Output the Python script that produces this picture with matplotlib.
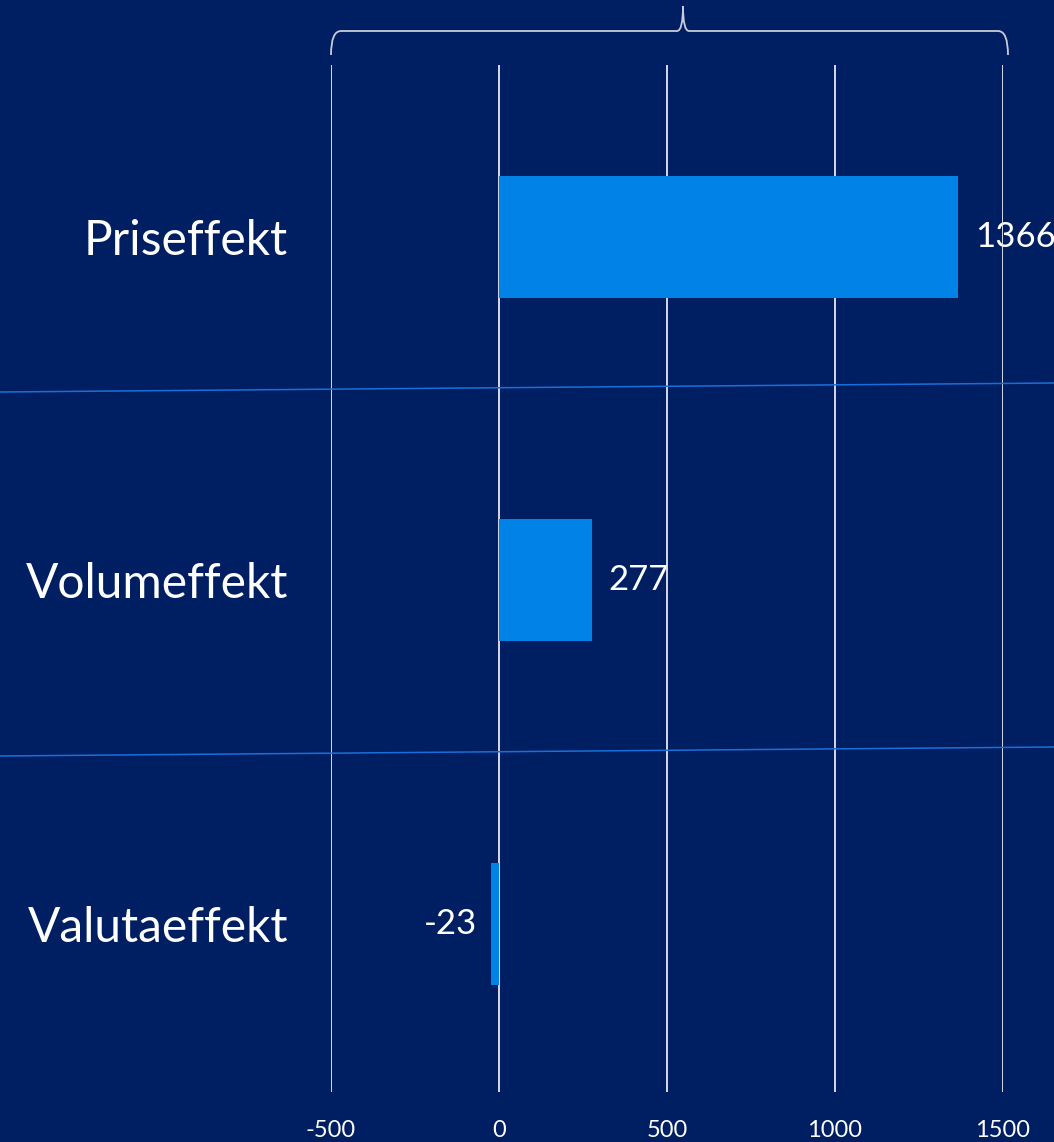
import matplotlib
matplotlib.use("Agg")
import matplotlib.pyplot as plt
from matplotlib.lines import Line2D
from matplotlib.path import Path
from matplotlib.patches import PathPatch

# chart data
categories = ["Priseffekt", "Volumeffekt", "Valutaeffekt"]
values = [1366, 277, -23]
x_ticks = [-500, 0, 500, 1000, 1500]

BG = "#001e62"
BAR = "#0082e6"
W, H = 1054, 1142

plt.rcParams["font.family"] = ["Lato", "DejaVu Sans"]

fig = plt.figure(figsize=(W / 100, H / 100), dpi=100, facecolor=BG)
ax = fig.add_axes([331 / W, 1 - 1092 / H, (1003 - 331) / W, (1092 - 65) / H])
ax.set_facecolor(BG)

ypos = list(range(len(categories)))
ax.barh(ypos, values, height=0.355, color=BAR, zorder=3)

for x in x_ticks:
    ax.axvline(x, color="#e6e8ee", lw=1.3, zorder=2)

for y, v in zip(ypos, values):
    if v >= 0:
        ax.text(v + 50, y, str(v), ha="left", va="center", color="white",
                fontsize=25, zorder=1, clip_on=False)
    else:
        ax.text(v - 42, y, str(v), ha="right", va="center", color="white",
                fontsize=25, zorder=1, clip_on=False)

ax.set_xlim(-500, 1500)
ax.set_ylim(2.49, -0.5)
ax.set_xticks(x_ticks)
ax.set_xticklabels([str(t) for t in x_ticks])
ax.set_yticks(ypos)
ax.set_yticklabels(categories)
ax.tick_params(axis="x", length=0, pad=20, labelsize=17, labelcolor="white")
ax.tick_params(axis="y", length=0, pad=31, labelsize=34.5, labelcolor="white")
for s in ax.spines.values():
    s.set_visible(False)

# slanted separators between rows
for y0, y1 in [(392, 383), (756, 747)]:
    fig.add_artist(Line2D([0, 1], [1 - y0 / H, 1 - y1 / H], color="#1a6fd6",
                          lw=1.1, transform=fig.transFigure))


# curly brace above the axis, in pixel coordinates
def px(x, y):
    return (x / W, 1 - y / H)


xl, xr, xm = 331, 1008, 683
yb, yt, ytip = 55, 31, 6
verts = [px(xl, yb), px(xl, yt), px(xl + 10, yt),
         px(xm - 6, yt), px(xm, yt), px(xm, ytip),
         px(xm, yt), px(xm + 6, yt),
         px(xr - 10, yt), px(xr, yt), px(xr, yb)]
codes = [Path.MOVETO, Path.CURVE3, Path.CURVE3,
         Path.LINETO, Path.CURVE3, Path.CURVE3,
         Path.CURVE3, Path.CURVE3,
         Path.LINETO, Path.CURVE3, Path.CURVE3]
fig.add_artist(PathPatch(Path(verts, codes), fill=False, edgecolor="#c8ccd8",
                         lw=1.3, transform=fig.transFigure))

fig.savefig("out.png", dpi=100, facecolor=BG)
